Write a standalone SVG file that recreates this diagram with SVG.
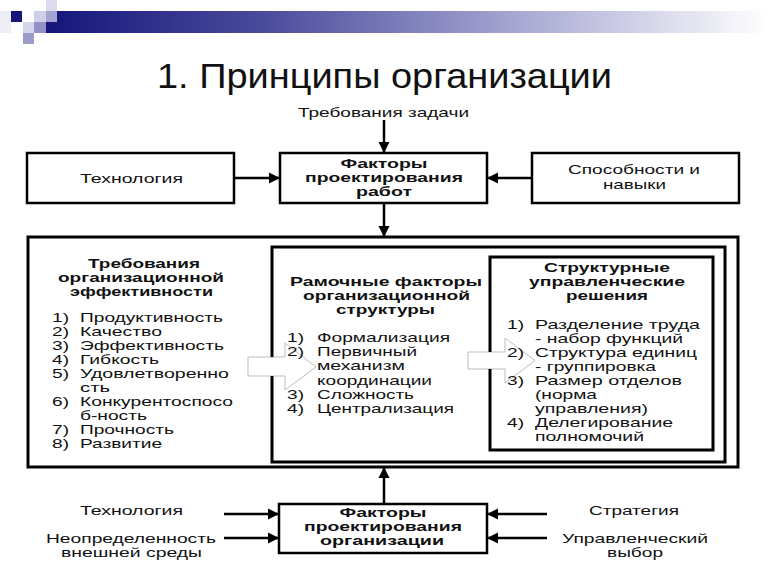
<svg xmlns="http://www.w3.org/2000/svg" width="768" height="576" viewBox="0 0 768 576">
<style>
text{font-family:"Liberation Sans",Arial,sans-serif;fill:#111}
.t{font-size:13px}
.b{font-size:13px;font-weight:bold}
.c{text-anchor:middle}
.box{fill:#fff;stroke:#000;stroke-width:2.5}
.box3{fill:none;stroke:#000;stroke-width:3}
.con{stroke:#000;stroke-width:2.5;fill:none;marker-end:url(#ah)}
.hollow{fill:#fff;stroke:#bdbdbd;stroke-width:1}
</style>
<defs>
<marker id="ah" markerUnits="userSpaceOnUse" markerWidth="12" markerHeight="12" refX="11" refY="6" orient="auto">
<path d="M0,0.5 L11,6 L0,11.5 z" fill="#000"/>
</marker>
<linearGradient id="bar" x1="0" y1="0" x2="1" y2="0">
<stop offset="0" stop-color="#15157a"/>
<stop offset="0.3" stop-color="#4a4a9c"/>
<stop offset="0.65" stop-color="#a6a6d2"/>
<stop offset="1" stop-color="#ffffff"/>
</linearGradient>
</defs>
<rect width="768" height="576" fill="#fff"/>

<g id="decor">
<rect x="46" y="11" width="722" height="22" fill="url(#bar)"/>
<rect x="0" y="11" width="11" height="22" fill="#eeeef7"/>
<rect x="11" y="11" width="11" height="11" fill="#15157a"/>
<rect x="46" y="0" width="11" height="11" fill="#dcdcee"/>
<rect x="34" y="11" width="12" height="11" fill="#cfcfe8"/>
<rect x="46" y="11" width="11" height="11" fill="#a4a4d2"/>
<rect x="23" y="22" width="11" height="11" fill="#d6d6ec"/>
<rect x="34" y="22" width="12" height="11" fill="#9292c6"/>
<rect x="23" y="33" width="11" height="11" fill="#9c9ccc"/>
</g>

<g id="title">
<text x="384.5" y="88" class="c" style="font-size:35px" textLength="455" lengthAdjust="spacingAndGlyphs">1. Принципы организации</text>
</g>

<g id="connectors">
<line x1="384" y1="120" x2="384" y2="153" class="con"/>
<line x1="234" y1="178" x2="280" y2="178" class="con"/>
<line x1="532" y1="178" x2="487" y2="178" class="con"/>
<line x1="384" y1="203" x2="384" y2="237" class="con"/>
<line x1="384" y1="504" x2="384" y2="467" class="con"/>
<line x1="224" y1="514" x2="279" y2="514" class="con"/>
<line x1="224" y1="538" x2="279" y2="538" class="con"/>
<line x1="547" y1="514" x2="487" y2="514" class="con"/>
<line x1="547" y1="538" x2="487" y2="538" class="con"/>
<polygon class="hollow" points="248,357 285,357 285,343 316,367 285,390 285,376 248,376"/>
<polygon class="hollow" points="468,352 505,352 505,338 535,360.5 505,383 505,369 468,369"/>
</g>

<g id="task">
<text x="383.5" y="117" class="t c" textLength="171" lengthAdjust="spacingAndGlyphs">Требования задачи</text>
</g>

<g id="tech-top">
<rect x="27" y="153" width="207" height="50" class="box"/>
<text x="131.5" y="183" class="t c" textLength="103" lengthAdjust="spacingAndGlyphs">Технология</text>
</g>

<g id="job-design">
<rect x="280" y="153" width="207" height="50" class="box"/>
<text x="384" y="168" class="b c" textLength="87" lengthAdjust="spacingAndGlyphs">Факторы</text>
<text x="384" y="182" class="b c" textLength="158" lengthAdjust="spacingAndGlyphs">проектирования</text>
<text x="384" y="196" class="b c" textLength="56" lengthAdjust="spacingAndGlyphs">работ</text>
</g>

<g id="skills">
<rect x="532" y="153" width="207" height="50" class="box"/>
<text x="634" y="174" class="t c" textLength="132" lengthAdjust="spacingAndGlyphs">Способности и</text>
<text x="634.5" y="189" class="t c" textLength="63" lengthAdjust="spacingAndGlyphs">навыки</text>
</g>

<g id="outer">
<rect x="28" y="237" width="710" height="230" class="box3"/>
<text x="144" y="268" class="b c" textLength="112" lengthAdjust="spacingAndGlyphs">Требования</text>
<text x="141" y="282" class="b c" textLength="166" lengthAdjust="spacingAndGlyphs">организационной</text>
<text x="141.5" y="296" class="b c" textLength="143" lengthAdjust="spacingAndGlyphs">эффективности</text>
<g class="t">
<text x="52" y="322" textLength="17" lengthAdjust="spacingAndGlyphs">1)</text><text x="80" y="322" textLength="143" lengthAdjust="spacingAndGlyphs">Продуктивность</text>
<text x="52" y="336" textLength="17" lengthAdjust="spacingAndGlyphs">2)</text><text x="80" y="336" textLength="82" lengthAdjust="spacingAndGlyphs">Качество</text>
<text x="52" y="350" textLength="17" lengthAdjust="spacingAndGlyphs">3)</text><text x="80" y="350" textLength="144" lengthAdjust="spacingAndGlyphs">Эффективность</text>
<text x="52" y="364" textLength="17" lengthAdjust="spacingAndGlyphs">4)</text><text x="80" y="364" textLength="79" lengthAdjust="spacingAndGlyphs">Гибкость</text>
<text x="52" y="378" textLength="17" lengthAdjust="spacingAndGlyphs">5)</text><text x="80" y="378" textLength="149" lengthAdjust="spacingAndGlyphs">Удовлетворенно</text>
<text x="80" y="392" textLength="30" lengthAdjust="spacingAndGlyphs">сть</text>
<text x="52" y="406" textLength="17" lengthAdjust="spacingAndGlyphs">6)</text><text x="80" y="406" textLength="153" lengthAdjust="spacingAndGlyphs">Конкурентоспосо</text>
<text x="80" y="420" textLength="67" lengthAdjust="spacingAndGlyphs">б-ность</text>
<text x="52" y="434" textLength="17" lengthAdjust="spacingAndGlyphs">7)</text><text x="80" y="434" textLength="94" lengthAdjust="spacingAndGlyphs">Прочность</text>
<text x="52" y="448" textLength="17" lengthAdjust="spacingAndGlyphs">8)</text><text x="80" y="448" textLength="82" lengthAdjust="spacingAndGlyphs">Развитие</text>
</g>
</g>

<g id="framework">
<path d="M272,357 V247 H725 V462 H272 V376" class="box3"/>
<text x="386" y="286" class="b c" textLength="192" lengthAdjust="spacingAndGlyphs">Рамочные факторы</text>
<text x="386.5" y="300" class="b c" textLength="167" lengthAdjust="spacingAndGlyphs">организационной</text>
<text x="385.5" y="314" class="b c" textLength="99" lengthAdjust="spacingAndGlyphs">структуры</text>
<g class="t">
<text x="287" y="342" textLength="17" lengthAdjust="spacingAndGlyphs">1)</text><text x="317" y="342" textLength="133" lengthAdjust="spacingAndGlyphs">Формализация</text>
<text x="287" y="356" textLength="17" lengthAdjust="spacingAndGlyphs">2)</text><text x="317" y="356" textLength="100" lengthAdjust="spacingAndGlyphs">Первичный</text>
<text x="317" y="370" textLength="88" lengthAdjust="spacingAndGlyphs">механизм</text>
<text x="317" y="385" textLength="115" lengthAdjust="spacingAndGlyphs">координации</text>
<text x="287" y="399" textLength="17" lengthAdjust="spacingAndGlyphs">3)</text><text x="317" y="399" textLength="97" lengthAdjust="spacingAndGlyphs">Сложность</text>
<text x="287" y="413" textLength="17" lengthAdjust="spacingAndGlyphs">4)</text><text x="317" y="413" textLength="137" lengthAdjust="spacingAndGlyphs">Централизация</text>
</g>
</g>

<g id="decisions">
<path d="M490,352 V257 H713 V450 H490 V369" class="box3"/>
<text x="607" y="272" class="b c" textLength="126" lengthAdjust="spacingAndGlyphs">Структурные</text>
<text x="607" y="286" class="b c" textLength="156" lengthAdjust="spacingAndGlyphs">управленческие</text>
<text x="607" y="300" class="b c" textLength="82" lengthAdjust="spacingAndGlyphs">решения</text>
<g class="t">
<text x="507" y="329" textLength="17" lengthAdjust="spacingAndGlyphs">1)</text><text x="535" y="329" textLength="165" lengthAdjust="spacingAndGlyphs">Разделение труда</text>
<text x="535" y="343" textLength="148" lengthAdjust="spacingAndGlyphs">- набор функций</text>
<text x="507" y="357" textLength="17" lengthAdjust="spacingAndGlyphs">2)</text><text x="535" y="357" textLength="162" lengthAdjust="spacingAndGlyphs">Структура единиц</text>
<text x="535" y="371" textLength="121" lengthAdjust="spacingAndGlyphs">- группировка</text>
<text x="507" y="385" textLength="17" lengthAdjust="spacingAndGlyphs">3)</text><text x="535" y="385" textLength="147" lengthAdjust="spacingAndGlyphs">Размер отделов</text>
<text x="535" y="399" textLength="62" lengthAdjust="spacingAndGlyphs">(норма</text>
<text x="535" y="413" textLength="113" lengthAdjust="spacingAndGlyphs">управления)</text>
<text x="507" y="427" textLength="17" lengthAdjust="spacingAndGlyphs">4)</text><text x="535" y="427" textLength="138" lengthAdjust="spacingAndGlyphs">Делегирование</text>
<text x="535" y="441" textLength="109" lengthAdjust="spacingAndGlyphs">полномочий</text>
</g>
</g>

<g id="org-design">
<rect x="279" y="504" width="208" height="49" class="box"/>
<text x="383" y="517" class="b c" textLength="87" lengthAdjust="spacingAndGlyphs">Факторы</text>
<text x="383" y="531" class="b c" textLength="158" lengthAdjust="spacingAndGlyphs">проектирования</text>
<text x="382" y="545" class="b c" textLength="124" lengthAdjust="spacingAndGlyphs">организации</text>
</g>

<g id="bottom-labels">
<text x="131.5" y="515" class="t c" textLength="103" lengthAdjust="spacingAndGlyphs">Технология</text>
<text x="131" y="543" class="t c" textLength="170" lengthAdjust="spacingAndGlyphs">Неопределенность</text>
<text x="131.5" y="557" class="t c" textLength="141" lengthAdjust="spacingAndGlyphs">внешней среды</text>
<text x="634" y="515" class="t c" textLength="90" lengthAdjust="spacingAndGlyphs">Стратегия</text>
<text x="635" y="543" class="t c" textLength="146" lengthAdjust="spacingAndGlyphs">Управленческий</text>
<text x="635" y="557" class="t c" textLength="56" lengthAdjust="spacingAndGlyphs">выбор</text>
</g>
</svg>
